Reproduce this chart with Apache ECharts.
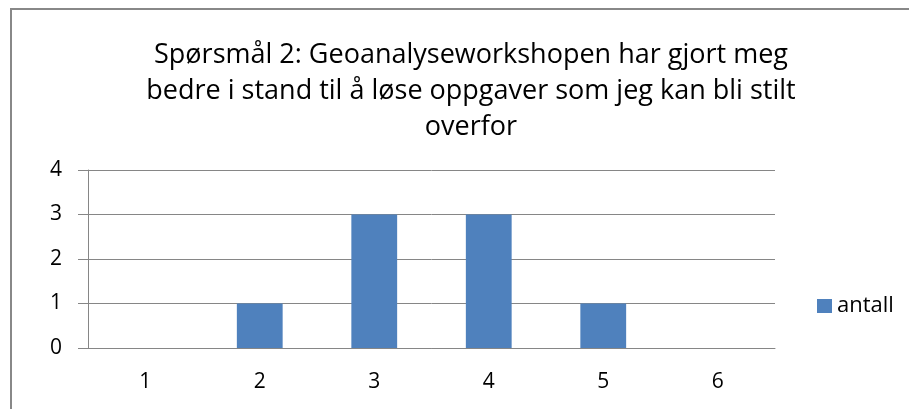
<!DOCTYPE html>
<html>
<head>
<meta charset="utf-8">
<script src="https://cdn.jsdelivr.net/npm/echarts@6/dist/echarts.min.js"></script>
<style>
  html, body { margin: 0; padding: 0; background: #fff; }
  #chart { width: 909px; height: 409px; }
</style>
</head>
<body>
<div id="chart"></div>
<script>
const categories = ['1', '2', '3', '4', '5', '6'];
const antall = [0, 1, 3, 3, 1, 0];
const titleLines = [
  'Spørsmål 2: Geoanalyseworkshopen har gjort meg',
  'bedre i stand til å løse oppgaver som jeg kan bli stilt',
  'overfor'
];

const font = '"Open Sans", sans-serif';
const gray = '#868686';

const chart = echarts.init(document.getElementById('chart'));
chart.setOption({
  animation: false,
  backgroundColor: '#fff',
  title: {
    text: titleLines.join('\n'),
    left: 466,
    top: 32,
    textAlign: 'center',
    textStyle: { fontFamily: font, fontSize: 27, fontWeight: 'normal', color: '#000', lineHeight: 36 }
  },
  legend: {
    data: ['antall'],
    orient: 'vertical',
    left: 812,
    top: 290,
    itemWidth: 15,
    itemHeight: 14,
    icon: 'rect',
    textStyle: { fontFamily: font, fontSize: 22, color: '#000' }
  },
  grid: { left: 88, right: 134, top: 170, bottom: 61 },
  xAxis: {
    type: 'category',
    data: categories,
    axisLine: { lineStyle: { color: gray } },
    axisTick: { length: 7, lineStyle: { color: gray } },
    axisLabel: { fontFamily: font, fontSize: 21, color: '#000', margin: 24 }
  },
  yAxis: {
    type: 'value',
    min: 0,
    max: 4,
    interval: 1,
    axisLine: { show: true, lineStyle: { color: gray } },
    axisTick: { show: true, length: 10, lineStyle: { color: gray } },
    axisLabel: { fontFamily: font, fontSize: 21, color: '#000', margin: 26 },
    splitLine: { lineStyle: { color: gray } }
  },
  series: [{
    name: 'antall',
    type: 'bar',
    data: antall,
    barWidth: '40%',
    itemStyle: { color: '#4F81BD' }
  }],
  graphic: [{
    type: 'rect',
    shape: { x: 11, y: 9, width: 1000, height: 1000 },
    style: { fill: 'none', stroke: '#888', lineWidth: 2 },
    silent: true
  }]
});
</script>
</body>
</html>
